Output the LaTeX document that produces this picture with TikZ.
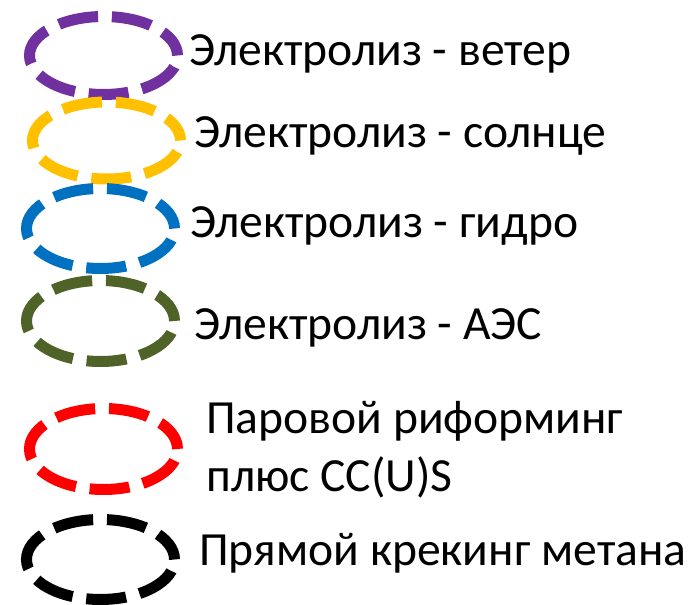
\documentclass[tikz,border=0pt]{standalone}
\usepackage{fontspec}
\setmainfont{Carlito}
\definecolor{cwind}{HTML}{7030A0}
\definecolor{csun}{HTML}{FFC000}
\definecolor{chydro}{HTML}{0070C0}
\definecolor{cnuke}{HTML}{4F6228}
\definecolor{csmr}{HTML}{FF0000}
\definecolor{ccrack}{HTML}{000000}
\begin{document}
\begin{tikzpicture}[x=1pt,y=1pt,
  ring/.style={line width=11pt, dash pattern=on 40pt off 13.8pt, dash phase=41.8pt},
  label/.style={anchor=base west, inner sep=0pt, font=\fontsize{47.6}{56}\selectfont}]
  \useasboundingbox (0,0) rectangle (697,605);
  % centres of the dashed legend rings (y measured upwards from the bottom edge)
  \coordinate (r1) at (103.5,549.5);
  \coordinate (r2) at (106.5,464.5);
  \coordinate (r3) at (100.5,376.5);
  \coordinate (r4) at (100.5,284);
  \coordinate (r5) at (103.5,156);
  \coordinate (r6) at (100.5,45.5);
  % each ring is traced clockwise from its east point
  \draw[ring, cwind]  (r1) ++(74,0) arc[start angle=360, end angle=0, x radius=74, y radius=39];
  \draw[ring, csun]   (r2) ++(74,0) arc[start angle=360, end angle=0, x radius=74, y radius=38.5];
  \draw[ring, chydro] (r3) ++(74,0) arc[start angle=360, end angle=0, x radius=74, y radius=40];
  \draw[ring, cnuke]  (r4) ++(74,0) arc[start angle=360, end angle=0, x radius=74, y radius=40.5];
  \draw[ring, csmr]   (r5) ++(74,0) arc[start angle=360, end angle=0, x radius=74, y radius=40.5];
  \draw[ring, ccrack] (r6) ++(74,0) arc[start angle=360, end angle=0, x radius=74, y radius=40];
  % legend texts
  \node[label] (t1)  at (189,539)   {Электролиз - ветер};
  \node[label] (t2)  at (194,457.5) {Электролиз - солнце};
  \node[label] (t3)  at (190,367)   {Электролиз - гидро};
  \node[label] (t4)  at (194,265)   {Электролиз - АЭС};
  \node[label] (t5a) at (206,171)   {Паровой риформинг};
  \node[label] (t5b) at (206,113)   {плюс CC(U)S};
  \node[label] (t6)  at (199,39)    {Прямой крекинг метана};
\end{tikzpicture}
\end{document}
